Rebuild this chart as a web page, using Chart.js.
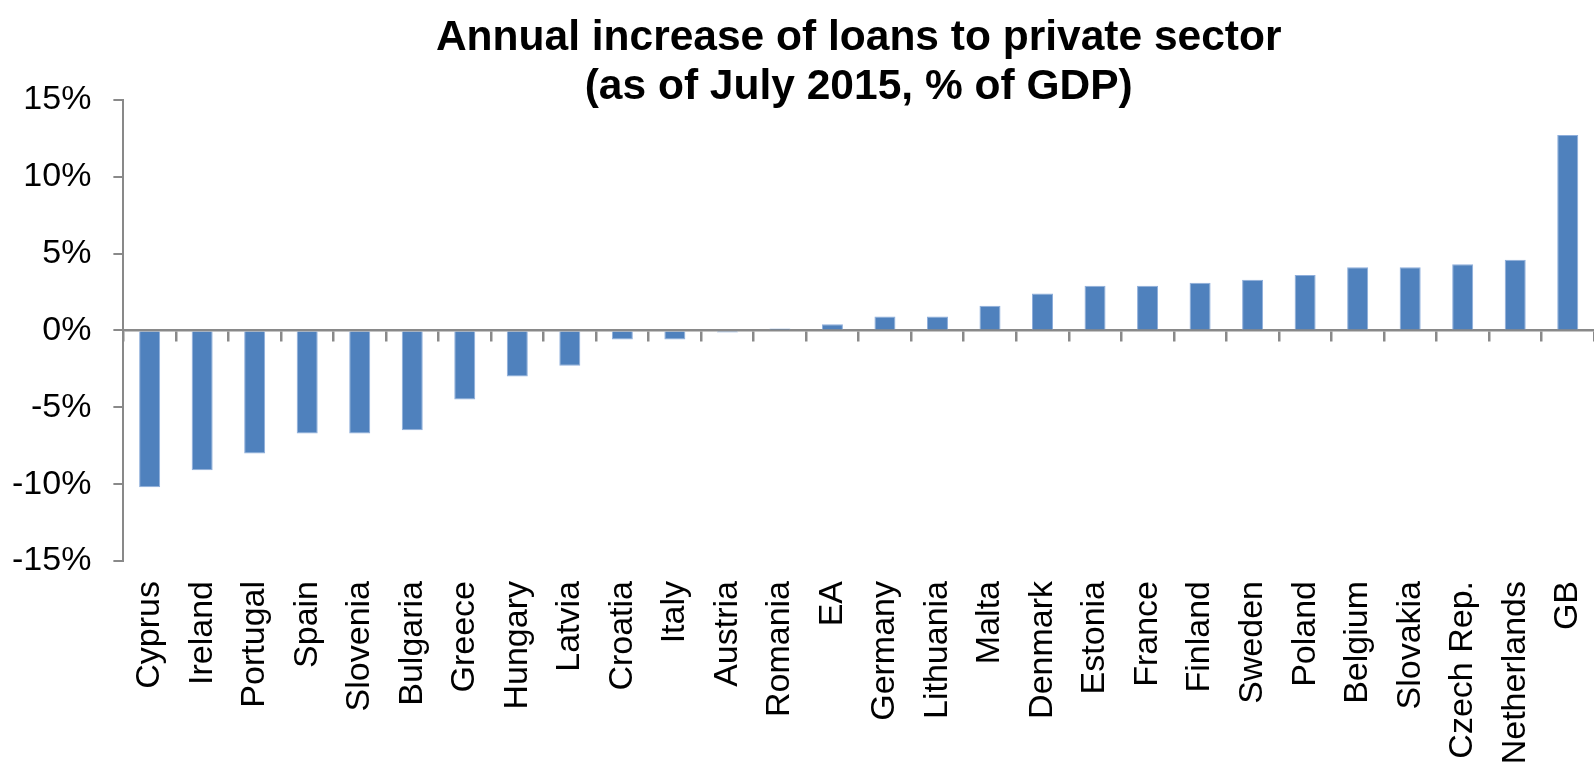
<!DOCTYPE html>
<html>
<head>
<meta charset="utf-8">
<script src="https://cdn.jsdelivr.net/npm/chart.js@4/dist/chart.umd.min.js"></script>
<style>
    body { margin: 0; background: #fff; }
    canvas { display: block; }
</style>
</head>
<body>
<canvas id="chart" width="1594" height="768"></canvas>
<script>
// Countries, sorted by annual increase of loans (% of GDP)
const countries = ['Cyprus', 'Ireland', 'Portugal', 'Spain', 'Slovenia', 'Bulgaria', 'Greece', 'Hungary',
    'Latvia', 'Croatia', 'Italy', 'Austria', 'Romania', 'EA', 'Germany', 'Lithuania', 'Malta', 'Denmark',
    'Estonia', 'France', 'Finland', 'Sweden', 'Poland', 'Belgium', 'Slovakia', 'Czech Rep.', 'Netherlands', 'GB'];
const loanIncrease = [-10.2, -9.1, -8.0, -6.7, -6.7, -6.5, -4.5, -3.0, -2.3, -0.6, -0.6, -0.05, 0.05,
    0.4, 0.9, 0.9, 1.6, 2.4, 2.9, 2.9, 3.1, 3.3, 3.6, 4.1, 4.1, 4.3, 4.6, 12.7];
const titleLines = ['Annual increase of loans to private sector', '(as of July 2015, % of GDP)'];
const yTicks = { min: -15, max: 15, step: 5 };

const fontFamily = '"Liberation Sans", Arial, sans-serif';
const axisGrey = '#898989';

// Center the title over the plot area instead of the whole canvas
const titleOverPlot = {
    id: 'titleOverPlot',
    afterLayout(chart) {
        chart.titleBlock.left = chart.chartArea.left;
        chart.titleBlock.right = chart.chartArea.right;
    }
};

const ctx = document.getElementById('chart').getContext('2d');
new Chart(ctx, {
    type: 'bar',
    data: {
        labels: countries,
        datasets: [{
            data: loanIncrease,
            backgroundColor: '#4f81bd',
            borderColor: '#8eaedb',
            borderWidth: 1,
            minBarLength: 2,
            categoryPercentage: 0.8,
            barPercentage: 0.5,
        }]
    },
    options: {
        responsive: false,
        animation: false,
        devicePixelRatio: 1,
        // y ticks padding is counted twice in the axis width, so pull the left side in
        layout: { padding: { left: -10, right: -7, top: 0, bottom: 0 } },
        plugins: {
            legend: { display: false },
            tooltip: { enabled: false },
            title: {
                display: true,
                text: titleLines,
                color: '#000',
                font: { family: fontFamily, size: 42.5, weight: 'bold', lineHeight: 1.15 },
                padding: { top: 14, bottom: -12 }
            }
        },
        scales: {
            x: {
                type: 'category',
                offset: true,
                grid: { display: false },
                border: { display: false },
                ticks: {
                    color: '#000',
                    font: { family: fontFamily, size: 34 },
                    minRotation: 90,
                    maxRotation: 90,
                    autoSkip: false,
                    padding: 12
                },
                // fixed height, and no side padding for the rotated labels
                afterFit: (scale) => {
                    scale.height = 207;
                    scale.paddingLeft = 0;
                    scale.paddingRight = 0;
                }
            },
            // zero line with its tick marks between categories
            x2: {
                type: 'category',
                position: { y: 0 },
                offset: true,
                z: 1,
                grid: {
                    offset: true,
                    drawOnChartArea: false,
                    drawTicks: true,
                    tickLength: 10,
                    color: axisGrey,
                    lineWidth: 2.5
                },
                border: { display: true, color: axisGrey, width: 2.5 },
                ticks: { display: false }
            },
            y: {
                min: yTicks.min,
                max: yTicks.max,
                grid: {
                    drawOnChartArea: false,
                    drawTicks: true,
                    tickLength: 10,
                    color: axisGrey,
                    lineWidth: 2
                },
                border: { display: true, color: axisGrey, width: 2 },
                ticks: {
                    stepSize: yTicks.step,
                    color: '#000',
                    font: { family: fontFamily, size: 34 },
                    padding: 22,
                    callback: (value) => value + '%'
                }
            }
        }
    },
    plugins: [titleOverPlot]
});
</script>
</body>
</html>
